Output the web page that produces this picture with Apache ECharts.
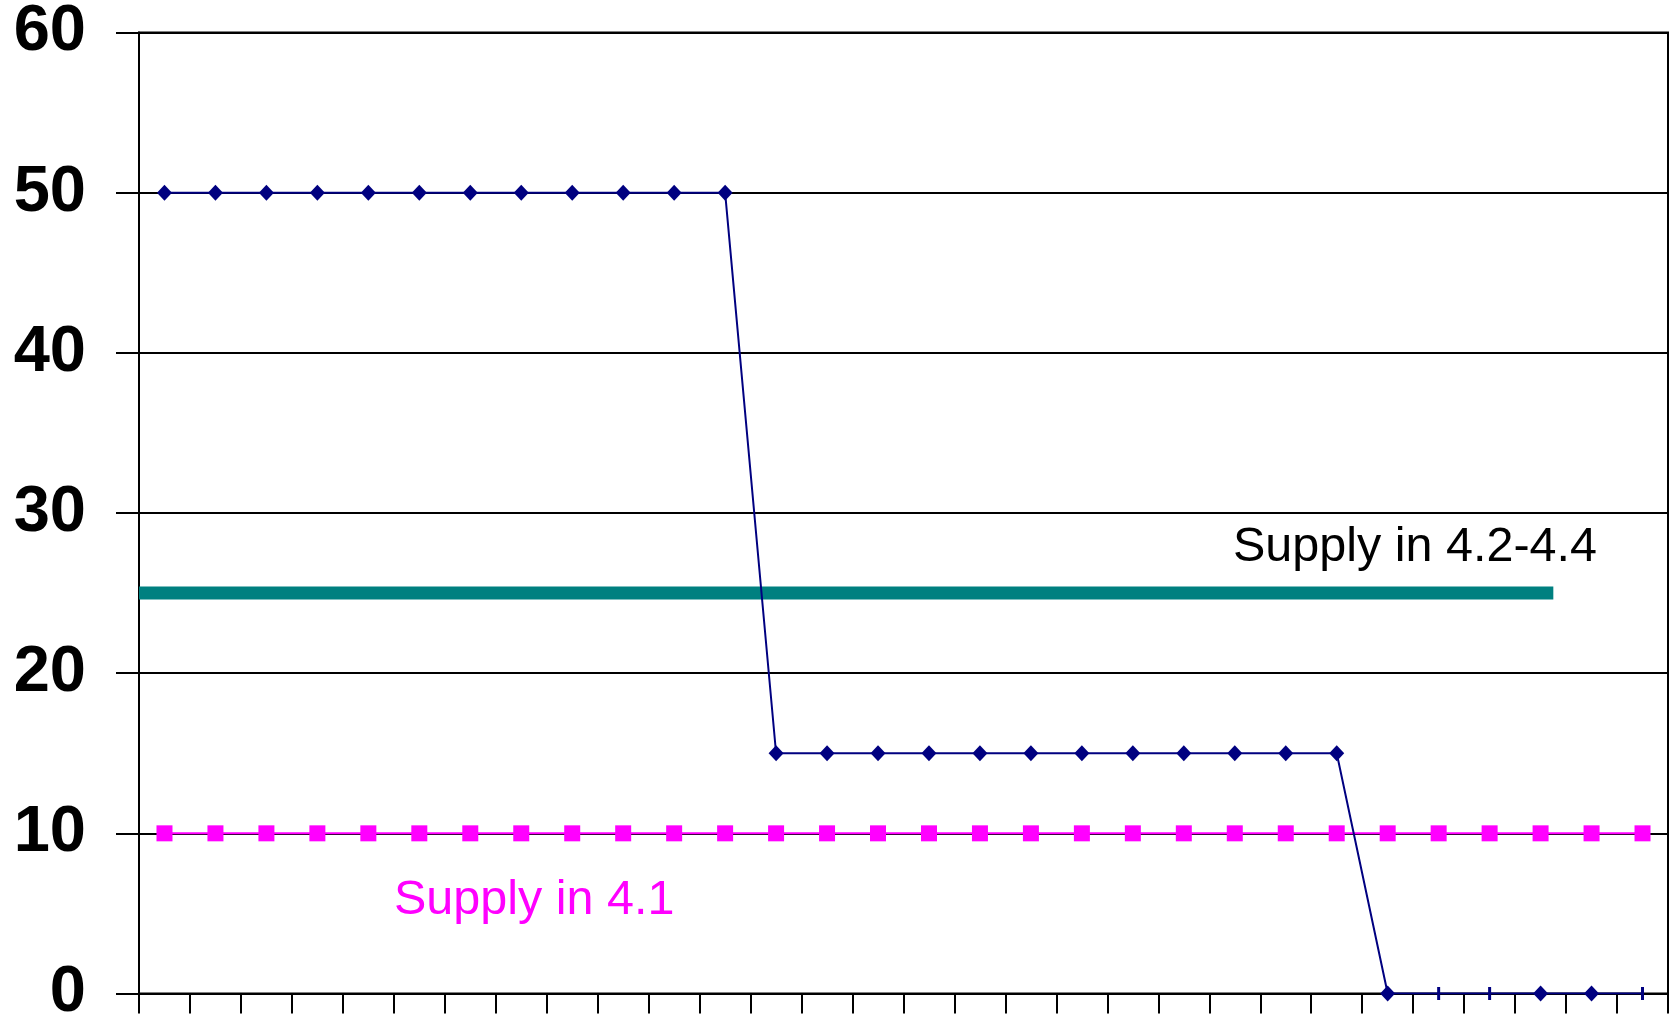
<!DOCTYPE html>
<html>
<head>
<meta charset="utf-8">
<script src="https://cdn.jsdelivr.net/npm/echarts@6/dist/echarts.min.js"></script>
<style>
  html, body { margin: 0; padding: 0; background: #fff; }
  #chart { width: 1671px; height: 1026px; }
</style>
</head>
<body>
<div id="chart"></div>
<script>
// Periods along the horizontal axis (30 steps)
const periods = Array.from({ length: 30 }, (_, i) => String(i + 1));

// Demand level per period
const demand = [50, 50, 50, 50, 50, 50, 50, 50, 50, 50, 50, 50,
                15, 15, 15, 15, 15, 15, 15, 15, 15, 15, 15, 15,
                0, 0, 0, 0, 0, 0];
// Marker shape for each demand point
const demandMarkers = ['diamond', 'diamond', 'diamond', 'diamond', 'diamond', 'diamond',
                       'diamond', 'diamond', 'diamond', 'diamond', 'diamond', 'diamond',
                       'diamond', 'diamond', 'diamond', 'diamond', 'diamond', 'diamond',
                       'diamond', 'diamond', 'diamond', 'diamond', 'diamond', 'diamond',
                       'diamond', 'dash', 'dash', 'diamond', 'diamond', 'dash'];

// Supply in 4.1, per period
const supply41 = [10, 10, 10, 10, 10, 10, 10, 10, 10, 10, 10, 10, 10, 10, 10,
                  10, 10, 10, 10, 10, 10, 10, 10, 10, 10, 10, 10, 10, 10, 10];

// Supply in 4.2-4.4: level and the span it covers (in periods)
const supply4244Level = 25;
const supply4244Span = [0, 27.75];

// Y axis scale
const yMin = 0, yMax = 60, yStep = 10;

const NAVY = '#000080';
const MAGENTA = '#FF00FF';
const TEAL = '#008080';

const chart = echarts.init(document.getElementById('chart'), null, { renderer: 'canvas' });

const demandData = demand.map((v, i) => {
  const dash = demandMarkers[i] === 'dash';
  return {
    value: v,
    symbol: dash ? 'rect' : 'diamond',
    symbolSize: dash ? [3, 13] : [15, 16]
  };
});

chart.setOption({
  animation: false,
  backgroundColor: '#ffffff',
  grid: {
    left: 139, right: 3, top: 32, bottom: 30,
    show: true, borderColor: '#000', borderWidth: 2, backgroundColor: 'transparent'
  },
  xAxis: [
    {
      type: 'category',
      data: periods,
      boundaryGap: true,
      axisLine: { lineStyle: { color: '#000', width: 2 } },
      axisTick: { show: true, interval: 0, length: 20, lineStyle: { color: '#000', width: 2 } },
      axisLabel: { show: false },
      splitLine: { show: false }
    },
    {
      type: 'value',
      min: 0, max: periods.length,
      show: false,
      position: 'bottom'
    }
  ],
  yAxis: {
    type: 'value',
    min: yMin, max: yMax, interval: yStep,
    axisLine: { show: true, lineStyle: { color: '#000', width: 2 } },
    axisTick: { show: true, length: 23, lineStyle: { color: '#000', width: 2 } },
    axisLabel: {
      margin: 53,
      color: '#000',
      fontFamily: '"Liberation Sans", Arial, sans-serif',
      fontWeight: 'bold',
      fontSize: 65
    },
    splitLine: { show: true, lineStyle: { color: '#000', width: 2 } }
  },
  series: [
    {
      name: 'Supply in 4.2-4.4',
      type: 'line',
      xAxisIndex: 1,
      data: supply4244Span.map(x => [x, supply4244Level]),
      showSymbol: false,
      lineStyle: { color: TEAL, width: 13, cap: 'butt' },
      z: 2
    },
    {
      name: 'Supply in 4.1',
      type: 'line',
      data: supply41,
      symbol: 'rect',
      symbolSize: 16,
      itemStyle: { color: MAGENTA },
      lineStyle: { color: MAGENTA, width: 2 },
      z: 3
    },
    {
      name: 'Demand',
      type: 'line',
      data: demandData,
      itemStyle: { color: NAVY },
      lineStyle: { color: NAVY, width: 2 },
      z: 4
    }
  ],
  graphic: [
    {
      type: 'text',
      left: 1233, top: 523,
      style: {
        text: 'Supply in 4.2-4.4',
        fill: '#000',
        font: '48.5px "Liberation Sans", Arial, sans-serif'
      },
      z: 10
    },
    {
      type: 'text',
      left: 394, top: 876,
      style: {
        text: 'Supply in 4.1',
        fill: MAGENTA,
        font: '48.5px "Liberation Sans", Arial, sans-serif'
      },
      z: 10
    }
  ]
});
</script>
</body>
</html>
